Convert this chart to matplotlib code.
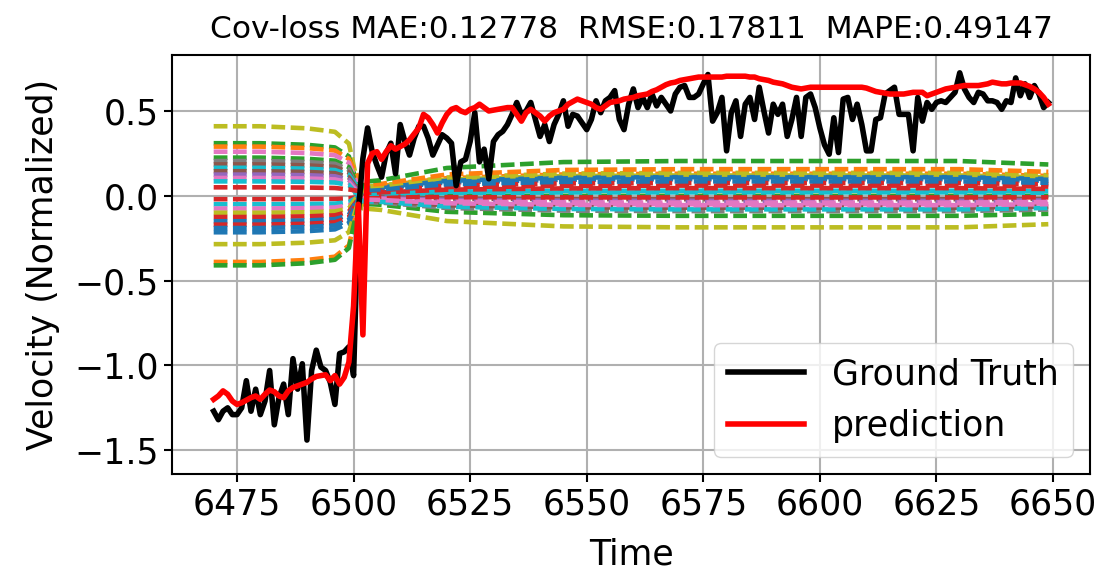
import numpy as np
import matplotlib
matplotlib.use('Agg')
import matplotlib.pyplot as plt

# time axis
time = np.arange(6470, 6650)

ground_truth = [
    -1.27, -1.32, -1.27, -1.25, -1.29, -1.29, -1.25, -1.09, -1.27, -1.14,
    -1.29, -1.21, -1.03, -1.35, -1.19, -1.11, -1.29, -0.96, -1.14, -0.99,
    -1.44, -1.03, -0.91, -1.01, -1.03, -1.10, -1.23, -0.93, -0.92, -0.89,
    -1.06, -0.10, 0.22, 0.40, 0.26, 0.18, 0.11, 0.25, 0.31, 0.13,
    0.42, 0.32, 0.24, 0.34, 0.41, 0.41, 0.34, 0.24, 0.30, 0.36,
    0.34, 0.31, 0.06, 0.20, 0.215, 0.32, 0.49, 0.20, 0.275, 0.10,
    0.32, 0.36, 0.38, 0.42, 0.48, 0.55, 0.48, 0.50, 0.55, 0.45,
    0.35, 0.42, 0.32, 0.42, 0.48, 0.56, 0.41, 0.48, 0.47, 0.43,
    0.39, 0.45, 0.56, 0.49, 0.56, 0.58, 0.62, 0.45, 0.39, 0.54,
    0.63, 0.52, 0.58, 0.52, 0.60, 0.53, 0.58, 0.54, 0.50, 0.60,
    0.64, 0.65, 0.58, 0.58, 0.60, 0.66, 0.715, 0.44, 0.49, 0.58,
    0.265, 0.49, 0.56, 0.35, 0.54, 0.58, 0.45, 0.64, 0.50, 0.37,
    0.54, 0.48, 0.54, 0.35, 0.45, 0.58, 0.35, 0.58, 0.60, 0.52,
    0.40, 0.30, 0.245, 0.46, 0.255, 0.57, 0.58, 0.45, 0.54, 0.42,
    0.265, 0.265, 0.45, 0.46, 0.60, 0.62, 0.64, 0.48, 0.48, 0.48,
    0.265, 0.58, 0.44, 0.55, 0.51, 0.55, 0.56, 0.55, 0.58, 0.61,
    0.725, 0.63, 0.58, 0.55, 0.61, 0.60, 0.56, 0.56, 0.55, 0.51,
    0.56, 0.55, 0.695, 0.59, 0.66, 0.58, 0.65, 0.60, 0.52, 0.55,
]

prediction = [
    -1.20, -1.18, -1.15, -1.17, -1.21, -1.23, -1.22, -1.205, -1.19, -1.18,
    -1.20, -1.17, -1.145, -1.155, -1.18, -1.19, -1.15, -1.13, -1.12, -1.11,
    -1.10, -1.08, -1.065, -1.06, -1.055, -1.09, -1.06, -1.11, -1.07, -0.98,
    -0.65, -0.05, -0.82, 0.19, 0.25, 0.26, 0.215, 0.26, 0.295, 0.275,
    0.29, 0.305, 0.33, 0.365, 0.40, 0.48, 0.46, 0.42, 0.37, 0.43,
    0.48, 0.51, 0.52, 0.50, 0.49, 0.51, 0.52, 0.54, 0.52, 0.50,
    0.505, 0.51, 0.515, 0.52, 0.52, 0.48, 0.44, 0.49, 0.51, 0.49,
    0.47, 0.44, 0.47, 0.49, 0.50, 0.51, 0.54, 0.555, 0.57, 0.56,
    0.55, 0.54, 0.52, 0.51, 0.53, 0.55, 0.555, 0.56, 0.57, 0.575,
    0.58, 0.59, 0.595, 0.60, 0.615, 0.625, 0.64, 0.655, 0.665, 0.67,
    0.68, 0.685, 0.69, 0.695, 0.70, 0.70, 0.70, 0.70, 0.70, 0.70,
    0.705, 0.705, 0.705, 0.705, 0.705, 0.70, 0.70, 0.69, 0.685, 0.68,
    0.67, 0.665, 0.66, 0.65, 0.64, 0.635, 0.63, 0.635, 0.64, 0.64,
    0.64, 0.64, 0.64, 0.64, 0.64, 0.64, 0.64, 0.64, 0.64, 0.64,
    0.635, 0.625, 0.615, 0.61, 0.605, 0.60, 0.60, 0.60, 0.60, 0.605,
    0.61, 0.61, 0.61, 0.59, 0.60, 0.61, 0.62, 0.63, 0.635, 0.64,
    0.645, 0.65, 0.65, 0.65, 0.65, 0.655, 0.66, 0.67, 0.665, 0.66,
    0.66, 0.665, 0.665, 0.665, 0.655, 0.645, 0.63, 0.61, 0.58, 0.54,
]

# covariance lines: level before the jump and level after it
band_t = [6470, 6480, 6490, 6496, 6499, 6502, 6506, 6520, 6545, 6570, 6600, 6630, 6649]
band_pre_shape = [1.0, 1.0, 0.97, 0.92, 0.75]
band_post_shape = [0.4, 0.45, 0.8, 0.97, 1.0, 1.0, 1.0, 0.9]
band_pre = [0.41, 0.31, 0.29, 0.26, 0.225, 0.205, 0.185, 0.165, 0.145, 0.125,
            0.105, 0.085, 0.05, -0.02, -0.05, -0.075, -0.10, -0.125, -0.15, -0.17,
            -0.19, -0.215, -0.285, -0.39, -0.41]
band_post = [-0.186, -0.118, 0.13, -0.05, 0.0, -0.09, -0.07, 0.02, -0.02, -0.03,
             -0.04, -0.08, 0.06, -0.01, 0.03, -0.055, 0.12, 0.045, 0.098, 0.075,
             0.085, 0.11, 0.135, 0.157, 0.205]
band_colors = ['C8', 'C2', 'C1', 'C6', 'C2', 'C7', 'C5', 'C9', 'C5', 'C4',
               'C6', 'C9', 'C3', 'C3', 'C9', 'C6', 'C8', 'C3', 'C0', 'C3',
               'C0', 'C0', 'C8', 'C1', 'C2']

fig = plt.figure(figsize=(11.08, 5.73), dpi=100)
ax = fig.add_axes([0.1552, 0.1728, 0.8286, 0.7312])

for pre, post, c in zip(band_pre, band_post, band_colors):
    vals = [pre * s for s in band_pre_shape] + [post * s for s in band_post_shape]
    ax.plot(band_t, vals, color=c, lw=3.3, linestyle=(0, (3.0, 1.2)))

ax.plot(time, ground_truth, color='black', lw=4, label='Ground Truth')
ax.plot(time, prediction, color='red', lw=4, label='prediction')

ax.set_ylim(-1.64, 0.83)
ax.set_xticks(np.arange(6475, 6651, 25))
ax.set_yticks([-1.5, -1.0, -0.5, 0.0, 0.5])
ax.grid(color='#b0b0b0', lw=1.5)
ax.tick_params(labelsize=25, width=1.5, length=6)
for s in ax.spines.values():
    s.set_linewidth(1.5)
ax.set_xlabel('Time', fontsize=25, labelpad=12)
ax.set_ylabel('Velocity (Normalized)', fontsize=25, labelpad=10)
ax.set_title('Cov-loss MAE:0.12778  RMSE:0.17811  MAPE:0.49147', fontsize=22.5, pad=12)
ax.legend(loc='lower right', fontsize=25, handlelength=2.2)

fig.savefig('out.png', dpi=100)
